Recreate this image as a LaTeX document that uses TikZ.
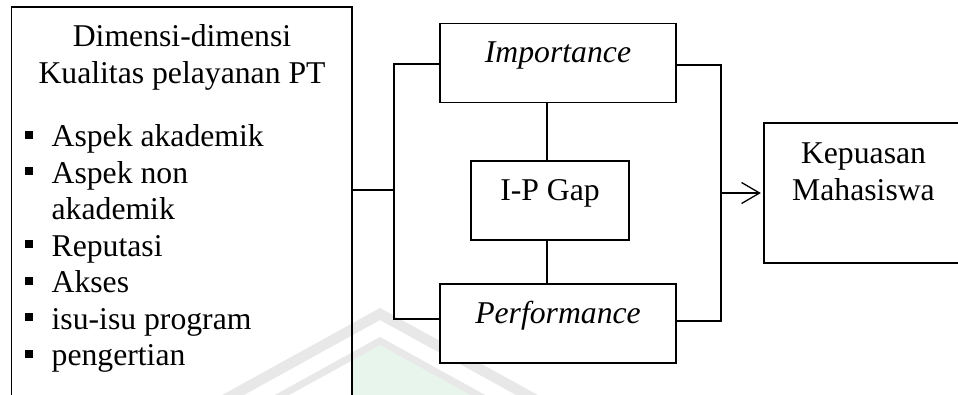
\documentclass[tikz,border=0pt]{standalone}
\usepackage{fontspec}
\setmainfont{Liberation Serif}
\usetikzlibrary{arrows.meta}
\definecolor{wmgray}{HTML}{E8E8E8}
\definecolor{wmgreen}{HTML}{E7F5EC}
\begin{document}
\begin{tikzpicture}[x=1pt,y=-1pt,
  font=\fontsize{31.7pt}{36.5pt}\selectfont,
  line width=1.3pt,
  box/.style={draw, fill=white, line width=1.3pt, inner sep=0pt, text height=39.5pt, text depth=39.5pt, anchor=base},
  txt/.style={inner sep=0pt, anchor=base},
  itm/.style={inner sep=0pt, anchor=base west},
  bul/.style={fill=black, inner sep=0pt, minimum size=8pt},
  conn/.style={draw=black, line width=1.3pt}]
\clip (0,0) rectangle (958,394);
\fill[white] (0,0) rectangle (958,394);
% faint watermark
\fill[wmgreen] (352,358) -- (380,345) -- (492,405) -- (352,405) -- cycle;
\draw[wmgray, line width=7pt] (273,400) -- (380,341) -- (487,400);
\draw[wmgray, line width=10.5pt] (224,400) -- (380,314) -- (536,400);
% left box
\node[draw, line width=1.3pt, minimum width=340.3pt, minimum height=420pt, inner sep=0pt] (dim) at (181.85,217) {};
\node[txt] (t1) at (182,46.7) {Dimensi-dimensi};
\node[txt] (t2) at (182,83.2) {Kualitas pelayanan PT};
\node[bul] (b1) at (29,134.9) {};
\node[itm] (i1) at (51,146.7) {Aspek akademik};
\node[bul] (b2) at (29,171.2) {};
\node[itm] (i2) at (51,183) {Aspek non};
\node[itm] (i2b) at (51,219.4) {akademik};
\node[bul] (b3) at (29,244.2) {};
\node[itm] (i3) at (51,256) {Reputasi};
\node[bul] (b4) at (29,280.7) {};
\node[itm] (i4) at (51,292.5) {Akses};
\node[bul] (b5) at (29,317.2) {};
\node[itm] (i5) at (51,329) {isu-isu program};
\node[bul] (b6) at (29,353.7) {};
\node[itm] (i6) at (51,365.5) {pengertian};
% middle boxes
\node[box, minimum width=236pt] (imp) at (558,62.7) {\itshape Importance};
\node[box, minimum width=158pt] (gap) at (550,200.5) {I-P Gap};
\node[box, minimum width=236pt] (perf) at (558,323.5) {\itshape Performance};
% right box
\node[draw, fill=white, line width=1.3pt, minimum width=230pt, minimum height=140pt, inner sep=0pt] (kep) at (879,193) {};
\node[txt] (k1) at (863.5,163.5) {Kepuasan};
\node[txt] (k2) at (863.5,200.5) {Mahasiswa};
% connectors
\coordinate (L1) at (394,64);
\coordinate (L2) at (394,319);
\coordinate (Lm) at (394,190);
\coordinate (R1) at (721,65);
\coordinate (R2) at (721,321);
\coordinate (Rm) at (721,193);
\coordinate (V) at (547,0);
\draw[conn] (imp.west |- L1) -- (L1) -- (L2) -- (perf.west |- L2);
\draw[conn] (dim.east |- Lm) -- (Lm);
\draw[conn] (imp.east |- R1) -- (R1) -- (R2) -- (perf.east |- R2);
\draw[conn, -{Straight Barb[length=18pt,width=21pt]}, shorten >=2.5pt] (Rm) -- (kep.west |- Rm);
\draw[conn] (imp.south -| V) -- (gap.north -| V);
\draw[conn] (gap.south -| V) -- (perf.north -| V);
\end{tikzpicture}
\end{document}
